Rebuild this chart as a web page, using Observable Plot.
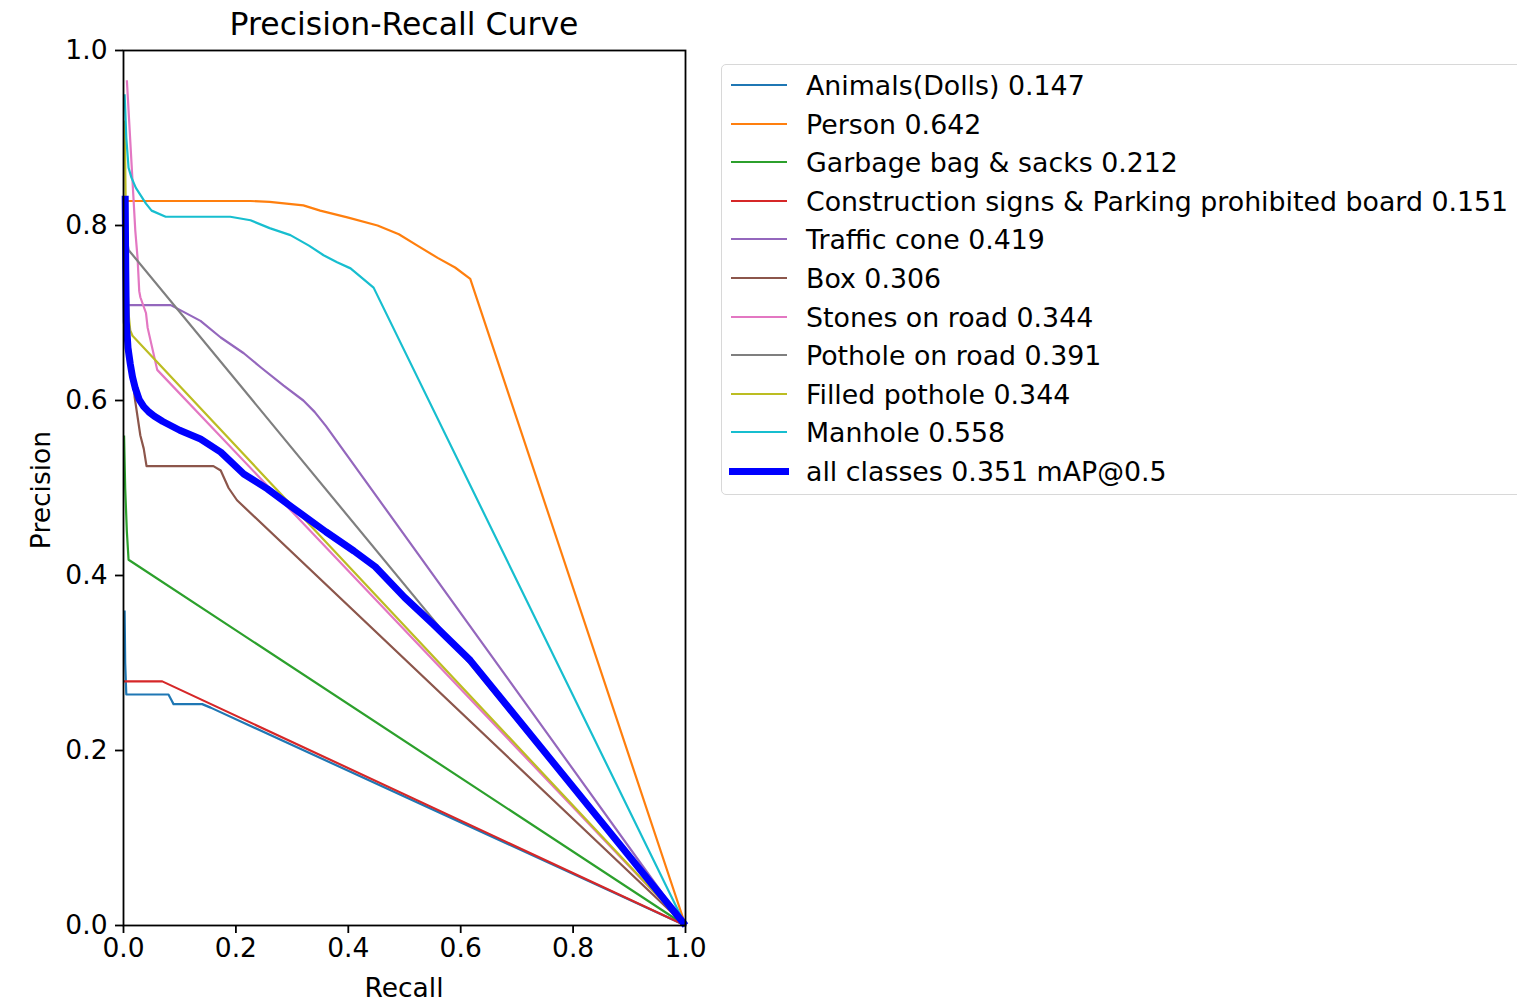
<!DOCTYPE html>
<html>
<head>
<meta charset="utf-8">
<script src="https://cdn.jsdelivr.net/npm/d3@7"></script>
<script src="https://cdn.jsdelivr.net/npm/@observablehq/plot@0.6"></script>
<style>
  html, body { margin: 0; padding: 0; background: white; }
  body { width: 1517px; height: 1001px; position: relative; overflow: hidden; font-family: "DejaVu Sans", sans-serif; color: black; }
  #chart { position: absolute; left: 0; top: 0; }
  .abs { position: absolute; white-space: nowrap; }
  #legend { position: absolute; left: 721px; top: 64px; width: 830px; height: 429px; border: 1.5px solid #d8d8d8; border-radius: 5px; background: white; }
</style>
</head>
<body>
<div id="chart"></div>
<div class="abs" id="title" style="left:404px; top:6px; transform:translateX(-50%); font-size:31.5px;">Precision-Recall Curve</div>
<div class="abs" id="xlabel" style="left:404px; top:972px; transform:translateX(-50%); font-size:26.5px;">Recall</div>
<div class="abs" id="ylabel" style="left:40px; top:490px; transform:translate(-50%,-50%) rotate(-90deg); font-size:26.5px;">Precision</div>
<div id="legend"></div>
<script>
// ---- Data ----
const classNames = ["Animals(Dolls)", "Person", "Garbage bag & sacks", "Construction signs & Parking prohibited board",
  "Traffic cone", "Box", "Stones on road", "Pothole on road", "Filled pothole", "Manhole", "all classes"];
const classAP = ["0.147", "0.642", "0.212", "0.151", "0.419", "0.306", "0.344", "0.391", "0.344", "0.558", "0.351 mAP@0.5"];
const classColors = ["#1f77b4", "#ff7f0e", "#2ca02c", "#d62728", "#9467bd", "#8c564b", "#e377c2", "#7f7f7f", "#bcbd22", "#17becf", "#0000ff"];

const animalsRecall    = [0.002, 0.003, 0.005, 0.08, 0.085, 0.089, 0.14, 0.155, 1];
const animalsPrecision = [0.36, 0.30, 0.264, 0.264, 0.258, 0.253, 0.253, 0.249, 0];

const personRecall    = [0.001, 0.226, 0.26, 0.32, 0.35, 0.40, 0.452, 0.49, 0.523, 0.559, 0.59, 0.617, 1];
const personPrecision = [0.828, 0.828, 0.827, 0.823, 0.817, 0.809, 0.80, 0.79, 0.777, 0.763, 0.752, 0.739, 0];

const garbageRecall    = [0.001, 0.003, 0.006, 0.009, 1];
const garbagePrecision = [0.56, 0.50, 0.45, 0.418, 0];

const constructionRecall    = [0.001, 0.004, 0.069, 1];
const constructionPrecision = [0.279, 0.279, 0.279, 0];

const coneRecall    = [0.004, 0.084, 0.096, 0.137, 0.173, 0.214, 0.244, 0.285, 0.32, 0.34, 0.36, 1];
const conePrecision = [0.709, 0.709, 0.705, 0.691, 0.672, 0.654, 0.638, 0.617, 0.60, 0.587, 0.571, 0];

const boxRecall    = [0.01, 0.02, 0.03, 0.036, 0.041, 0.16, 0.173, 0.187, 0.202, 1];
const boxPrecision = [0.67, 0.603, 0.56, 0.545, 0.525, 0.525, 0.52, 0.50, 0.486, 0];

const stonesRecall    = [0.006, 0.021, 0.025, 0.028, 0.03, 0.04, 0.043, 0.06, 1];
const stonesPrecision = [0.966, 0.794, 0.763, 0.725, 0.718, 0.70, 0.683, 0.635, 0];

const potholeRecall    = [0.002, 0.009, 1];
const potholePrecision = [0.80, 0.772, 0];

const filledRecall    = [0.002, 0.004, 0.006, 0.009, 0.012, 0.016, 1];
const filledPrecision = [0.92, 0.82, 0.75, 0.70, 0.68, 0.674, 0];

const manholeRecall    = [0.002, 0.005, 0.009, 0.014, 0.022, 0.03, 0.04, 0.05, 0.075, 0.19, 0.226, 0.26, 0.297, 0.33, 0.356, 0.38, 0.404, 0.445, 1];
const manholePrecision = [0.95, 0.90, 0.866, 0.855, 0.843, 0.835, 0.825, 0.817, 0.81, 0.81, 0.806, 0.797, 0.789, 0.777, 0.766, 0.758, 0.751, 0.729, 0];

const allRecall    = [0.003, 0.004, 0.005, 0.008, 0.012, 0.016, 0.021, 0.028, 0.036, 0.045, 0.055, 0.07, 0.1, 0.137, 0.173, 0.214, 0.256, 0.30, 0.36, 0.41, 0.448, 0.5, 0.55, 0.617, 1];
const allPrecision = [0.834, 0.75, 0.69, 0.66, 0.642, 0.627, 0.614, 0.601, 0.593, 0.587, 0.582, 0.576, 0.566, 0.556, 0.541, 0.516, 0.499, 0.478, 0.45, 0.428, 0.41, 0.375, 0.345, 0.303, 0];

const seriesRecall = [animalsRecall, personRecall, garbageRecall, constructionRecall, coneRecall, boxRecall, stonesRecall, potholeRecall, filledRecall, manholeRecall, allRecall];
const seriesPrecision = [animalsPrecision, personPrecision, garbagePrecision, constructionPrecision, conePrecision, boxPrecision, stonesPrecision, potholePrecision, filledPrecision, manholePrecision, allPrecision];

const ticks = [0, 0.2, 0.4, 0.6, 0.8, 1.0];

// ---- Build tables ----
const series = classNames.map((name, i) => ({
  name, color: classColors[i], thick: i === classNames.length - 1,
  points: seriesRecall[i].map((r, j) => ({recall: r, precision: seriesPrecision[i][j]}))
}));

const lineMarks = series.map(s => Plot.line(s.points, {
  x: "recall", y: "precision", stroke: s.color,
  strokeWidth: s.thick ? 7 : 2.2, strokeLinejoin: "round", strokeLinecap: "butt"
}));

const chart = Plot.plot({
  width: 1517, height: 1001,
  marginLeft: 123, marginRight: 832, marginTop: 50, marginBottom: 76,
  style: {fontFamily: "DejaVu Sans", fontSize: "26.5px", color: "black", background: "white"},
  x: {domain: [0, 1]},
  y: {domain: [0, 1]},
  marks: [
    ...lineMarks,
    Plot.frame({stroke: "black", strokeWidth: 1.8}),
    Plot.axisX({ticks, tickFormat: d3.format(".1f"), tickSize: 8, tickPadding: 5, label: null, fontSize: 26.5, strokeWidth: 1.8}),
    Plot.axisY({ticks, tickFormat: d3.format(".1f"), tickSize: 8, tickPadding: 8, label: null, fontSize: 26.5, strokeWidth: 1.8})
  ]
});
document.getElementById("chart").appendChild(chart);

// ---- Legend ----
const legend = document.getElementById("legend");
series.forEach((s, i) => {
  const cy = 20 + 38.6 * i;
  const h = document.createElement("div");
  h.style.cssText = `position:absolute; left:${s.thick ? 7 : 9}px; width:${s.thick ? 60 : 56}px; top:${cy - (s.thick ? 3.5 : 1.1)}px; height:${s.thick ? 7 : 2.2}px; background:${s.color};`;
  legend.appendChild(h);
  const t = document.createElement("div");
  t.className = "abs";
  t.style.cssText += `left:84px; top:${cy}px; transform:translateY(-50%); font-size:26.8px;`;
  t.textContent = `${s.name} ${classAP[i]}`;
  legend.appendChild(t);
});
</script>
</body>
</html>
